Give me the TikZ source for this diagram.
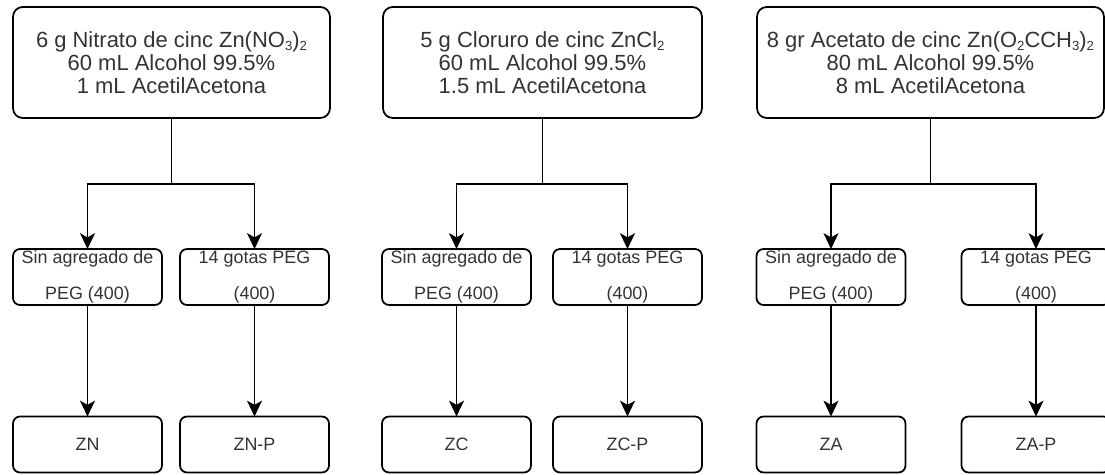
\documentclass[tikz,border=0pt]{standalone}
\usepackage{fontspec}
\setmainfont{Liberation Sans}
\usetikzlibrary{arrows.meta}

% small chemical index, as in the source boxes
\newcommand{\quimsub}[1]{\raisebox{-0.25ex}{\fontsize{7.5}{7.5}\selectfont #1}}

\begin{document}
\begin{tikzpicture}[x=0.02cm, y=-0.02cm, line width=1pt,
  >={Stealth[length=9pt, width=8.5pt, inset=2.4pt]},
  caja/.style={draw, inner sep=0pt, outer sep=0pt, align=center, text=black!80},
  sal/.style={caja, rounded corners=5.5pt, minimum height=2.22cm,
    font=\fontsize{12.5}{13.2}\selectfont},
  trat/.style={caja, rounded corners=4pt, minimum width=2.98cm, minimum height=1.12cm,
    font=\fontsize{10.2}{20.4}\selectfont},
  muestra/.style={trat}]

  % frame of the page (the right column is cut by the edge)
  \clip (0,0) rectangle (1105,475);

  % --- precursor solutions ---
  \node[sal, minimum width=6.34cm] (nit) at (171.5,62.5)
    {6 g Nitrato de cinc Zn(NO\quimsub{3})\quimsub{2}\\60 mL Alcohol 99.5\%\\1 mL AcetilAcetona};
  \node[sal, minimum width=6.38cm] (clo) at (542.5,62.5)
    {5 g Cloruro de cinc ZnCl\quimsub{2}\\60 mL Alcohol 99.5\%\\1.5 mL AcetilAcetona};
  \node[sal, minimum width=6.94cm] (ace) at (930.5,62.5)
    {8 gr Acetato de cinc Zn(O\quimsub{2}CCH\quimsub{3})\quimsub{2}\\80 mL Alcohol 99.5\%\\8 mL AcetilAcetona};

  % --- PEG treatment ---
  \node[trat] (nsin) at (87.5,277)  {Sin agregado de\\PEG (400)};
  \node[trat] (npeg) at (254.5,277) {14 gotas PEG\\(400)};
  \node[trat] (csin) at (456.5,277) {Sin agregado de\\PEG (400)};
  \node[trat] (cpeg) at (627.5,277) {14 gotas PEG\\(400)};
  \node[trat] (asin) at (831,277)   {Sin agregado de\\PEG (400)};
  \node[trat] (apeg) at (1036,277)  {14 gotas PEG\\(400)};

  % --- samples ---
  \node[muestra] (zn)  at (87.5,444.5)  {ZN};
  \node[muestra] (znp) at (254.5,444.5) {ZN-P};
  \node[muestra] (zc)  at (456.5,444.5) {ZC};
  \node[muestra] (zcp) at (627.5,444.5) {ZC-P};
  \node[muestra] (za)  at (831,444.5)   {ZA};
  \node[muestra] (zap) at (1036,444.5)  {ZA-P};

  % --- branching ---
  \coordinate (jn) at ([yshift=-1.32cm]nit.south);
  \coordinate (jc) at ([yshift=-1.32cm]clo.south);
  \coordinate (ja) at ([yshift=-1.32cm]ace.south);
  \draw (nit.south) -- (jn);
  \draw (clo.south) -- (jc);
  \draw (ace.south) -- (ja);
  \draw[->] (jn) -| (nsin.north);
  \draw[->] (jn) -| (npeg.north);
  \draw[->] (jc) -| (csin.north);
  \draw[->] (jc) -| (cpeg.north);
  \draw[->] (ja) -| (asin.north);
  \draw[->] (ja) -| (apeg.north);

  % --- treatment to sample ---
  \draw[->] (nsin) -- (zn);
  \draw[->] (npeg) -- (znp);
  \draw[->] (csin) -- (zc);
  \draw[->] (cpeg) -- (zcp);
  \draw[->] (asin) -- (za);
  \draw[->] (apeg) -- (zap);

\end{tikzpicture}
\end{document}
